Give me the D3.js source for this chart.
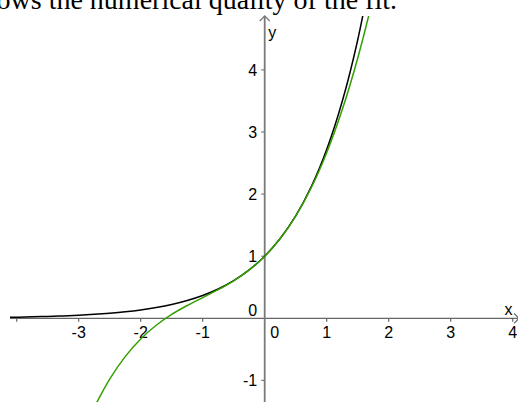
<!DOCTYPE html>
<html>
<head>
<meta charset="utf-8">
<script src="https://cdn.jsdelivr.net/npm/d3@7"></script>
<style>
  html, body { margin: 0; padding: 0; background: #fff; }
  svg { display: block; }
</style>
</head>
<body>
<svg id="chart" width="518" height="402"></svg>
<script>
// Sample points of the exponential curve (black) and of its cubic fit (green)
const expX   = [-4.25, -4, -3.75, -3.5, -3.25, -3, -2.75, -2.5, -2.25, -2, -1.75, -1.5, -1.25, -1, -0.75, -0.5, -0.25, 0, 0.25, 0.5, 0.75, 1, 1.25, 1.5, 1.75];
const expY   = [0.014, 0.018, 0.024, 0.030, 0.039, 0.050, 0.064, 0.082, 0.105, 0.135, 0.174, 0.223, 0.287, 0.368, 0.472, 0.607, 0.779, 1, 1.284, 1.649, 2.117, 2.718, 3.490, 4.482, 5.755];
const fitX   = [-2.75, -2.5, -2.25, -2, -1.75, -1.5, -1.25, -1, -0.75, -0.5, -0.25, 0, 0.25, 0.5, 0.75, 1, 1.25, 1.5, 1.75, 2];
const fitY   = [-1.435, -0.979, -0.617, -0.333, -0.112, 0.063, 0.206, 0.333, 0.461, 0.604, 0.779, 1, 1.284, 1.646, 2.102, 2.667, 3.357, 4.188, 5.174, 6.333];

// Axis tick labels
const xTicks = [-3, -2, -1, 1, 2, 3, 4];
const xTickMarks = [-4, -3, -2, -1, 1, 2, 3, 4];
const yTicks = [-1, 1, 2, 3, 4];

const caption = "shows the numerical quality of the fit.";

const svg = d3.select("#chart");
const W = 518, H = 402;

const x = d3.scaleLinear().domain([-4, 4]).range([16.7, 512.7]);
const y = d3.scaleLinear().domain([-1, 4]).range([380.4, 69.9]);

const plotLeft = 10, plotTop = 16;
const axisColor = "#7a7a7a";
const font = "'Liberation Sans', Arial, sans-serif";
const labelSize = 16;

// caption line above the graph
svg.append("text")
  .attr("x", 397).attr("y", 8.5)
  .attr("text-anchor", "end")
  .attr("font-family", "'Liberation Serif', 'Times New Roman', serif")
  .attr("font-size", 28)
  .attr("fill", "#000")
  .text(caption);

svg.append("defs").append("clipPath").attr("id", "plot")
  .append("rect").attr("x", plotLeft).attr("y", plotTop)
  .attr("width", W - plotLeft).attr("height", H - plotTop);

const x0 = x(0), y0 = y(0);

// x axis
svg.append("line")
  .attr("x1", plotLeft).attr("x2", W + 2)
  .attr("y1", y0).attr("y2", y0)
  .attr("stroke", "#666").attr("stroke-width", 1.3);
svg.append("path")
  .attr("d", `M${W - 4},${y0 - 5} L${W + 1},${y0} L${W - 4},${y0 + 5}`)
  .attr("fill", "none").attr("stroke", "#666").attr("stroke-width", 1.2);

// y axis
svg.append("line")
  .attr("x1", x0).attr("x2", x0)
  .attr("y1", plotTop).attr("y2", H)
  .attr("stroke", axisColor).attr("stroke-width", 1.8);
svg.append("path")
  .attr("d", `M${x0 - 5},${plotTop + 5} L${x0},${plotTop} L${x0 + 5},${plotTop + 5}`)
  .attr("fill", "none").attr("stroke", axisColor).attr("stroke-width", 1.3);

// tick marks
svg.append("g").selectAll("line").data(xTickMarks).join("line")
  .attr("x1", d => x(d)).attr("x2", d => x(d))
  .attr("y1", y0).attr("y2", y0 + 3.5)
  .attr("stroke", "#666").attr("stroke-width", 1.2);
svg.append("g").selectAll("line").data(yTicks).join("line")
  .attr("x1", x0 - 3.5).attr("x2", x0)
  .attr("y1", d => y(d)).attr("y2", d => y(d))
  .attr("stroke", axisColor).attr("stroke-width", 1.2);

// tick labels
svg.append("g").selectAll("text").data(xTicks).join("text")
  .attr("x", d => x(d)).attr("y", y0 + 20)
  .attr("text-anchor", "middle")
  .attr("font-family", font).attr("font-size", labelSize)
  .text(d => d < 0 ? "-" + Math.abs(d) : d);
svg.append("text")
  .attr("x", x0 + 5.5).attr("y", y0 + 20)
  .attr("font-family", font).attr("font-size", labelSize).text("0");
svg.append("g").selectAll("text").data(yTicks).join("text")
  .attr("x", x0 - 7.5).attr("y", d => y(d) + 6)
  .attr("text-anchor", "end")
  .attr("font-family", font).attr("font-size", labelSize)
  .text(d => d < 0 ? "-" + Math.abs(d) : d);
svg.append("text")
  .attr("x", x0 - 7.5).attr("y", y0 - 2.5)
  .attr("text-anchor", "end")
  .attr("font-family", font).attr("font-size", labelSize).text("0");

// axis names
svg.append("text").attr("x", x0 + 3.5).attr("y", 37.5)
  .attr("font-family", font).attr("font-size", labelSize).text("y");
svg.append("text").attr("x", 504.5).attr("y", y0 - 3.5)
  .attr("font-family", font).attr("font-size", labelSize).text("x");

// curves
const line = d3.line()
  .x(d => x(d[0])).y(d => y(d[1]))
  .curve(d3.curveCatmullRom.alpha(0.5));

const curves = svg.append("g").attr("clip-path", "url(#plot)");
curves.append("path")
  .datum(d3.zip(expX, expY))
  .attr("d", line)
  .attr("fill", "none").attr("stroke", "#000").attr("stroke-width", 1.5);
curves.append("path")
  .datum(d3.zip(fitX, fitY))
  .attr("d", line)
  .attr("fill", "none").attr("stroke", "#33a000").attr("stroke-width", 1.5);
</script>
</body>
</html>
